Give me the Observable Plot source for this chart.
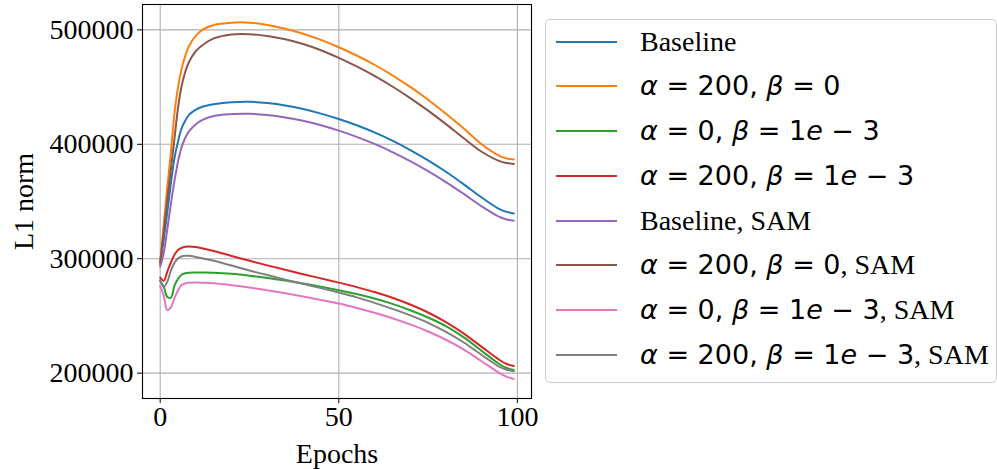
<!DOCTYPE html>
<html><head><meta charset="utf-8">
<script src="https://cdn.jsdelivr.net/npm/d3@7"></script>
<script src="https://cdn.jsdelivr.net/npm/@observablehq/plot@0.6"></script>
<style>
html,body{margin:0;padding:0;background:#fff;}
#wrap{position:relative;width:997px;height:469px;overflow:hidden;}
#legend{position:absolute;left:545px;top:19px;width:452px;height:364px;border:1px solid #cccccc;border-radius:5px;box-sizing:border-box;background:#fff;}
.row{position:absolute;left:0;width:100%;height:40px;}
.swatch{position:absolute;left:10px;top:19px;width:61px;height:2px;}
.lbl{position:absolute;left:94px;top:0;white-space:nowrap;line-height:40px;height:40px;color:#000;}
.serif{font-family:"Liberation Serif","Times New Roman",serif;font-size:28px;}
.math{font-family:"DejaVu Sans",sans-serif;font-size:27px;}
.it{font-style:italic;}
</style></head>
<body><div id="wrap"></div>
<script>
// ---- data ----
const epochs = [0,1,2,3,4,5,6,7,8,10,12,15,20,25,30,35,40,45,50,55,60,65,70,75,80,85,90,95,97,99];

const seriesNames = [
  "Baseline",
  "α = 200, β = 0",
  "α = 0, β = 1e − 3",
  "α = 200, β = 1e − 3",
  "Baseline, SAM",
  "α = 200, β = 0, SAM",
  "α = 0, β = 1e − 3, SAM",
  "α = 200, β = 1e − 3, SAM"
];
const seriesColors = ["#1f77b4","#ff7f0e","#2ca02c","#d62728","#9467bd","#8c564b","#e377c2","#7f7f7f"];

const baseline    = [295000,317000,341000,366000,388000,402500,414000,420500,425500,430300,433000,435000,436800,437200,436000,433900,430800,426800,422100,416600,410400,403200,395000,386000,376000,365000,353500,343300,340900,339600];
const a200b0      = [297000,330000,363000,393000,427000,450000,466000,477000,485500,495000,500500,504300,506300,506300,504200,501000,496600,491200,484800,477600,469500,460300,450100,438900,426700,413700,400000,389800,387600,386800];
const a0b1e3      = [280500,275500,266500,266000,276500,282500,286000,287300,287800,288000,288000,287800,286800,285200,283200,280900,278400,275600,272500,269200,265200,260500,255000,248600,241000,231200,219500,207800,204500,202700];
const a200b1e3    = [283600,280800,288800,296700,303400,307600,309500,310400,310700,310200,309000,306800,302400,298200,294200,290300,286500,282800,279100,275200,270900,265900,260000,253000,244600,234600,223000,211500,208000,206300];
const baselineSAM = [293000,305000,326000,348000,368000,385000,397500,405500,411000,417500,421500,424800,426400,426700,425600,423500,420500,416600,411900,406500,400300,393200,385300,376600,367000,356600,345800,336500,334300,333200];
const a200b0SAM   = [297000,324000,352000,378000,405000,432000,451000,463000,471500,481500,487000,492500,496000,496200,494600,491700,487600,482200,475500,468000,459700,450500,440400,429400,417600,405200,393500,385300,383600,382800];
const a0b1e3SAM   = [276000,267500,255000,257500,265500,272500,277000,278300,279000,279200,279000,278500,276800,274800,272500,269800,267000,264000,260800,257000,252800,248000,242600,236400,229200,220600,210400,200000,196800,195000];
const a200b1e3SAM = [281300,275500,280000,289500,296500,300300,302000,302500,302500,301500,300200,298200,294000,289700,285700,281700,278000,274300,270400,266200,261400,256200,250500,244000,236100,226800,215900,205500,203000,201700];

const seriesValues = [baseline,a200b0,a0b1e3,a200b1e3,baselineSAM,a200b0SAM,a0b1e3SAM,a200b1e3SAM];

const xTicks = [0,50,100];
const yTicks = [200000,300000,400000,500000];
const xLabel = "Epochs";
const yLabel = "L1 norm";

// ---- build ----
const serif = '"Liberation Serif","Times New Roman",serif';
const marks = [
  Plot.ruleX(xTicks, {x: d => d, stroke: "#b0b0b0", strokeWidth: 1.1}),
  Plot.ruleY(yTicks, {y: d => d, stroke: "#b0b0b0", strokeWidth: 1.1})
];
seriesValues.forEach((vals, i) => {
  const rows = epochs.map((e, j) => ({epoch: e, value: vals[j]}));
  marks.push(Plot.line(rows, {x: "epoch", y: "value", stroke: seriesColors[i], strokeWidth: 2, curve: "catmull-rom"}));
});
marks.push(Plot.frame({stroke: "#000", strokeWidth: 1.1}));
marks.push(Plot.text([xLabel], {text: d => d, frameAnchor: "bottom", textAnchor: "middle", lineAnchor: "bottom", dy: 64, fontSize: 28, fontFamily: serif, fill: "#000"}));
marks.push(Plot.text([yLabel], {text: d => d, frameAnchor: "left", textAnchor: "middle", lineAnchor: "middle", rotate: -90, dx: -118, fontSize: 28, fontFamily: serif, fill: "#000"}));

const chart = Plot.plot({
  width: 997,
  height: 469,
  marginLeft: 142,
  marginRight: 466,
  marginTop: 4,
  marginBottom: 71,
  style: {fontFamily: serif, fontSize: "28px", color: "#000", background: "#fff", overflow: "visible"},
  x: {domain: [-4.95, 103.95], ticks: xTicks, tickSize: 5, tickPadding: 3, tickFormat: d => String(d), label: null},
  y: {domain: [177850, 522150], ticks: yTicks, tickSize: 5, tickPadding: 4, tickFormat: d => String(d), label: null},
  marks
});
const wrap = document.getElementById("wrap");
wrap.appendChild(chart);

// ---- legend ----
const legend = document.createElement("div");
legend.id = "legend";
function mathHTML(s) {
  return s.replace(/([αβe])/g, '<span class="it">$1</span>');
}
seriesNames.forEach((name, i) => {
  const row = document.createElement("div");
  row.className = "row";
  row.style.top = (21.7 + i * 44.7 - 20) + "px";
  const sw = document.createElement("div");
  sw.className = "swatch";
  sw.style.background = seriesColors[i];
  row.appendChild(sw);
  const lbl = document.createElement("div");
  lbl.className = "lbl";
  if (name.startsWith("Baseline")) {
    lbl.innerHTML = '<span class="serif">' + name + '</span>';
  } else {
    const idx = name.indexOf(", SAM");
    const m = idx >= 0 ? name.slice(0, idx) : name;
    let html = '<span class="math">' + mathHTML(m) + '</span>';
    if (idx >= 0) html += '<span class="serif">, SAM</span>';
    lbl.innerHTML = html;
  }
  row.appendChild(lbl);
  legend.appendChild(row);
});
wrap.appendChild(legend);
</script></body></html>
